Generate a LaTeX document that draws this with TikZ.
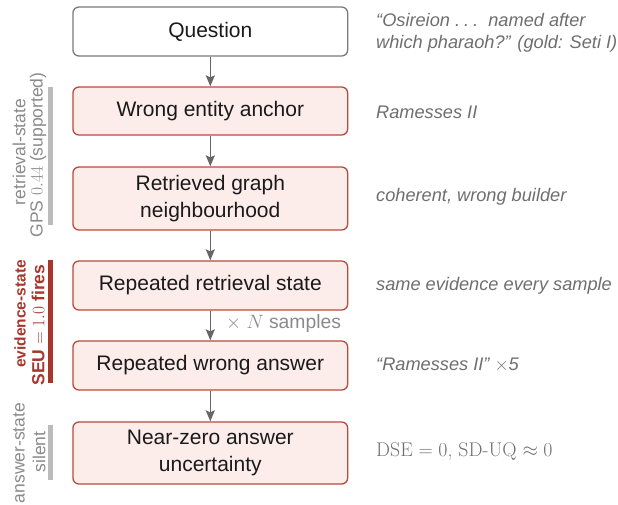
\RequirePackage{fix-cm}
\documentclass[tikz,border=0pt]{standalone}
\usepackage{fontspec}
\setsansfont{Liberation Sans}
\usetikzlibrary{arrows.meta}

\definecolor{boxedge}{HTML}{B84A3E}
\definecolor{boxfill}{HTML}{FCEDEB}
\definecolor{qedge}{HTML}{7A7A7A}
\definecolor{arrowgray}{HTML}{666666}
\definecolor{notegray}{HTML}{6E6E6E}
\definecolor{labelgray}{HTML}{8A8A8A}
\definecolor{bargray}{HTML}{BBBBBB}
\definecolor{alertred}{HTML}{A8362B}
\definecolor{ink}{HTML}{1A1A1A}

\tikzset{
  stagebox/.style={draw=boxedge, fill=boxfill, line width=1.3pt, rounded corners=6pt,
    minimum width=274.7pt, inner sep=0pt, align=center, text=ink,
    font=\sffamily\fontsize{21}{26.5}\selectfont},
  questionbox/.style={stagebox, draw=qedge, fill=white},
  flow/.style={draw=arrowgray, line width=1.5pt,
    -{Stealth[length=11pt, width=9pt, inset=2pt]}},
  note/.style={anchor=west, inner sep=0pt, align=left, text=notegray,
    font=\sffamily\itshape\fontsize{18.2}{22}\selectfont},
  sidelabel/.style={rotate=90, inner sep=0pt, text=labelgray,
    font=\sffamily\fontsize{17.5}{20}\selectfont},
  alertlabel/.style={sidelabel, text=alertred},
  graybar/.style={draw=none, fill=bargray},
  redbar/.style={draw=none, fill=alertred},
}

\begin{document}
\begin{tikzpicture}[x=1pt, y=-1pt]
  \useasboundingbox (0,0) rectangle (618,504);

  % pipeline stages
  \node[questionbox, minimum height=49pt] (q)  at (210.3, 31.5) {Question};
  \node[stagebox, minimum height=48pt]    (we) at (210.3, 111)  {Wrong entity anchor};
  \node[stagebox, minimum height=63pt]    (rg) at (210.3, 198.5) {Retrieved graph\\neighbourhood};
  \node[stagebox, minimum height=49pt]    (rr) at (210.3, 285.5) {Repeated retrieval state};
  \node[stagebox, minimum height=49pt]    (rw) at (210.3, 365.5) {Repeated wrong answer};
  \node[stagebox, minimum height=62pt]    (nz) at (210.3, 453)  {Near-zero answer\\uncertainty};

  % connectors
  \draw[flow] (q)  -- (we);
  \draw[flow] (we) -- (rg);
  \draw[flow] (rg) -- (rr);
  \draw[flow] (rr) -- (rw);
  \draw[flow] (rw) -- (nz);
  \node[anchor=base west, inner sep=0pt, text=labelgray,
        font=\sffamily\fontsize{19.3}{22}\selectfont] (ns) at (226, 328)
        {$\times\;N$ samples};

  % annotations on the right
  \node[note] (nq)  at (376, 33)
    {“Osireion .\hspace{0.22em}.\hspace{0.22em}.\ \ named after\\which pharaoh?” (gold: Seti I)};
  \node[note] (nwe) at (376, 112) {Ramesses II};
  \node[note] (nrg) at (376, 197) {coherent, wrong builder};
  \node[note] (nrr) at (376, 286) {same evidence every sample};
  \node[note] (nrw) at (376, 365) {“Ramesses II” $\times$5};
  \node[note, font=\rmfamily\fontsize{19.8}{22}\selectfont] (nnz) at (376, 452)
    {DSE $=0$, SD-UQ $\approx0$};

  % diagnostic brackets on the left
  \fill[graybar] (47.5, 87) rectangle (52.5, 225);
  \node[sidelabel] (l1a) at (19, 152) {retrieval-state};
  \node[sidelabel] (l1b) at (38, 155) {GPS $0.44$ (supported)};

  \fill[redbar] (47.5, 260) rectangle (52.5, 383);
  \node[alertlabel, font=\sffamily\bfseries\fontsize{15.5}{20}\selectfont] (l2a) at (20, 314) {evidence-state};
  \node[alertlabel] (l2b) at (38, 325) {\textbf{SEU} $= 1.0$ \textbf{fires}};

  \fill[graybar] (47.5, 425) rectangle (52.5, 480);
  \node[sidelabel] (l3a) at (19, 453) {answer-state};
  \node[sidelabel] (l3b) at (39, 452) {silent};
\end{tikzpicture}
\end{document}
